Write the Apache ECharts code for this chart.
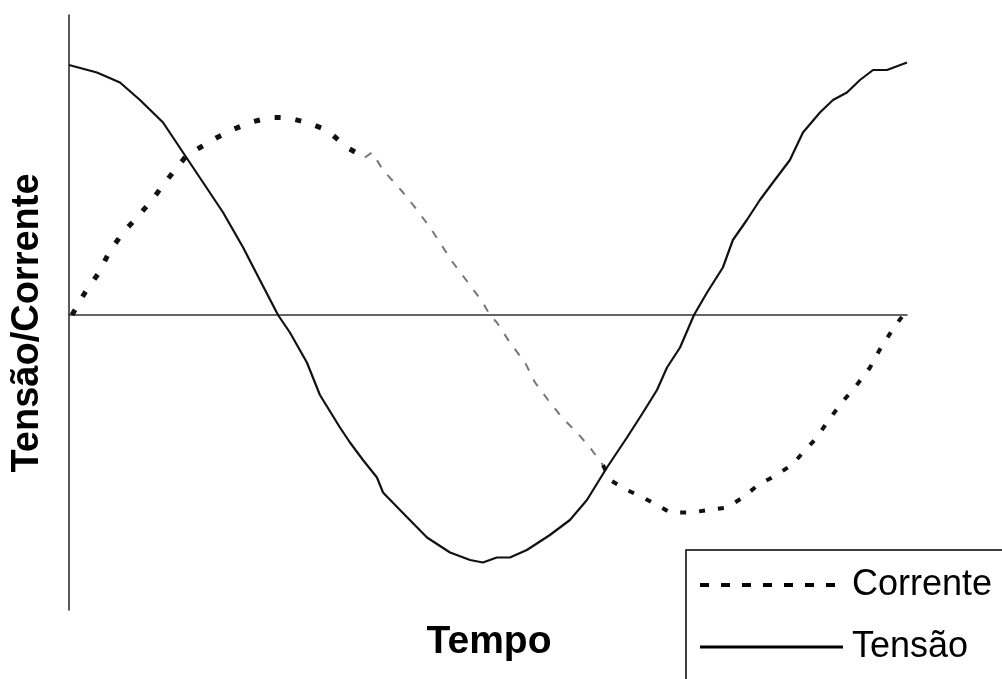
<!DOCTYPE html>
<html>
<head>
<meta charset="utf-8">
<script src="https://cdn.jsdelivr.net/npm/echarts@6/dist/echarts.min.js"></script>
<style>
  html, body { margin: 0; padding: 0; background: #fff; }
  #main { width: 1002px; height: 679px; }
</style>
</head>
<body>
<div id="main"></div>
<script>
// Tempo em graus (0..360)
var tensao = [
  [0, 10.0], [12, 9.7], [21.9, 9.3], [30.5, 8.6], [40.4, 7.7], [49, 6.5],
  [57.6, 5.3], [66.2, 4.1], [74.8, 2.7], [82, 1.4], [89.8, 0], [94.9, -0.7],
  [102.2, -1.9], [107.8, -3.2], [116.4, -4.5], [120.7, -5.1], [126.3, -5.8],
  [132.3, -6.5], [134.9, -7.1], [142.2, -7.8], [153.8, -8.9], [163.7, -9.5],
  [172.3, -9.8], [177.8, -9.9], [183.8, -9.7], [189.4, -9.7], [196.7, -9.4],
  [206.6, -8.8], [215.2, -8.2], [222.5, -7.4], [231.1, -6.1], [239.7, -4.9],
  [246.6, -3.9], [252.6, -3.0], [256.9, -2.1], [262.5, -1.3], [268.5, 0],
  [274.1, 0.9], [280.9, 1.9], [285.2, 3.0], [291.2, 3.8], [296.8, 4.6],
  [302.4, 5.3], [309.7, 6.2], [315.3, 7.3], [322.6, 8.1], [328.2, 8.6],
  [334.2, 8.9], [339.8, 9.4], [345.4, 9.8], [351.4, 9.8], [360, 10.1]
];

// corrente: trecho inicial (pontilhado grosso)
var correnteA = [
  [1.3, 0], [6.9, 0.9], [12.9, 1.7], [17.2, 2.5], [23.2, 3.3], [29.2, 3.9],
  [35.7, 4.6], [41.2, 5.3], [46.4, 5.9], [50.7, 6.4], [56.3, 6.7], [63.6, 7.1],
  [70, 7.4], [77.7, 7.7], [86.3, 7.9], [93.6, 7.9], [102.2, 7.7], [110.8, 7.4],
  [119.4, 6.7], [127.1, 6.3]
];
// trecho do meio (tracejado fino)
var correnteB = [
  [127.1, 6.3], [130.2, 6.5], [134.9, 5.8], [143.5, 4.9], [149.5, 4.2],
  [155.1, 3.5], [160.7, 2.7], [164.9, 2.1], [171.4, 1.3], [177.8, 0.5],
  [180.8, 0], [183.8, -0.3], [189.4, -1.1], [195.9, -1.9], [200.2, -2.7],
  [205.8, -3.4], [211.8, -4.1], [218.2, -4.7], [223.8, -5.3], [229.4, -6.0]
];
// trecho final
var correnteC = [
  [229.4, -6.0], [232.4, -6.6], [239.7, -7.0], [246.6, -7.3], [252.6, -7.6],
  [258.2, -7.9], [266.8, -7.9], [275.3, -7.8], [282.6, -7.7], [289.5, -7.3],
  [296, -6.8], [302, -6.5], [310.6, -6.0], [315.3, -5.5], [321.3, -4.9],
  [325.6, -4.3], [332, -3.5], [337.6, -2.9], [344.1, -2.1], [348.8, -1.3],
  [354.4, -0.5], [360, 0.2]
];

var chartDom = document.getElementById('main');
var myChart = echarts.init(chartDom, null, { renderer: 'canvas' });

var fontName = "'Liberation Sans', Arial, sans-serif";

var option = {
  animation: false,
  backgroundColor: '#fff',
  color: ['#111'],
  grid: { left: 69, right: 95, top: 15, bottom: 69 },
  xAxis: {
    type: 'value',
    min: 0,
    max: 360,
    axisLine: { show: true, onZero: true, lineStyle: { color: '#333', width: 1.5 } },
    axisTick: { show: false },
    axisLabel: { show: false },
    splitLine: { show: false }
  },
  yAxis: {
    type: 'value',
    min: -11.8,
    max: 12,
    axisLine: { show: true, lineStyle: { color: '#222', width: 1.5 } },
    axisTick: { show: false },
    axisLabel: { show: false },
    splitLine: { show: false }
  },
  legend: {
    orient: 'vertical',
    left: 698,
    top: 567,
    padding: 0,
    itemWidth: 143,
    itemHeight: 40,
    itemGap: 26,
    itemStyle: { opacity: 0 },
    textStyle: { fontSize: 36, fontFamily: fontName, color: '#000', padding: [0, 0, 0, 4] },
    data: [
      { name: 'Corrente', lineStyle: { type: [9, 12], width: 4, color: '#000' } },
      { name: 'Tensão', lineStyle: { type: 'solid', width: 3, color: '#000' } }
    ]
  },
  graphic: [
    {
      type: 'rect',
      z: 1,
      shape: { x: 686, y: 550, width: 400, height: 200 },
      style: { fill: '#fff', stroke: '#000', lineWidth: 1.5 }
    },
    {
      type: 'text',
      x: 489,
      y: 642,
      style: {
        text: 'Tempo',
        font: 'bold 39px ' + fontName,
        fill: '#000',
        textAlign: 'center',
        textVerticalAlign: 'middle'
      }
    },
    {
      type: 'text',
      x: 28,
      y: 323,
      rotation: Math.PI / 2,
      style: {
        text: 'Tensão/Corrente',
        font: 'bold 38px ' + fontName,
        fill: '#000',
        textAlign: 'center',
        textVerticalAlign: 'middle'
      }
    }
  ],
  series: [
    {
      name: 'Corrente',
      type: 'line',
      symbol: 'none',
      data: correnteA,
      lineStyle: { color: '#111', width: 5, type: [6, 15], cap: 'butt' }
    },
    {
      name: 'Corrente',
      type: 'line',
      symbol: 'none',
      data: correnteB,
      lineStyle: { color: '#777', width: 2, type: [8, 10] }
    },
    {
      name: 'Corrente',
      type: 'line',
      symbol: 'none',
      data: correnteC,
      lineStyle: { color: '#111', width: 4, type: [6, 13] }
    },
    {
      name: 'Tensão',
      type: 'line',
      symbol: 'none',
      data: tensao,
      lineStyle: { color: '#111', width: 2.2 }
    }
  ]
};

if (option && typeof option === 'object') {
  myChart.setOption(option);
}

window.addEventListener('resize', myChart.resize);
</script>
</body>
</html>
